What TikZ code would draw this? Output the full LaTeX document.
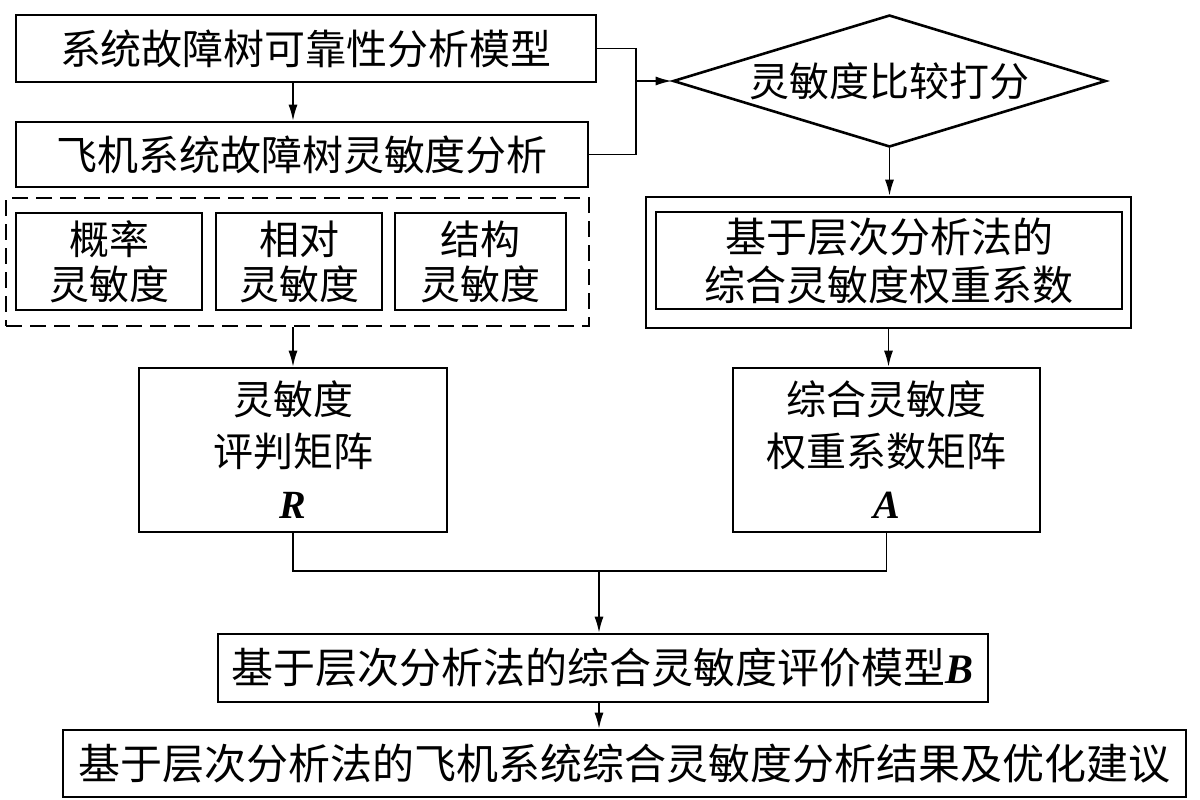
\documentclass[tikz,border=0pt]{standalone}
\usepackage{fontspec}
\setmainfont{Noto Sans CJK SC}
\newfontfamily\tnr{Liberation Serif}
\usetikzlibrary{arrows.meta,shapes.geometric}
\begin{document}
\begin{tikzpicture}[x=0.5pt,y=-0.5pt,
  box/.style={draw,line width=1.3pt,inner sep=0pt,align=center,font=\fontsize{20}{24}\selectfont},
  conn/.style={line width=0.8pt},
  arr/.style={line width=0.8pt,-{Latex[length=8pt,width=4.5pt]}},
  dbox/.style={draw,line width=1.3pt,dash pattern=on 8pt off 4pt,inner sep=0pt}]
\useasboundingbox (0,0) rectangle (1200,799);
\node[box,minimum width=290pt,minimum height=33.5pt,font=\fontsize{20.5}{24}\selectfont] (b1) at (306,48.5) {系统故障树可靠性分析模型};
\node[box,minimum width=286pt,minimum height=32.5pt,font=\fontsize{20.5}{24}\selectfont] (b2) at (302,154.5) {飞机系统故障树灵敏度分析};
\node[dbox,minimum width=291.5pt,minimum height=64pt] (dash) at (297.5,262) {};
\node[box,minimum width=93pt,minimum height=48.5pt,font=\fontsize{20}{22.5}\selectfont] (p1) at (109,261.5) {概率\\灵敏度};
\node[box,minimum width=83pt,minimum height=48.5pt,font=\fontsize{20}{22.5}\selectfont] (p2) at (299,261.5) {相对\\灵敏度};
\node[box,minimum width=85.5pt,minimum height=48.5pt,font=\fontsize{20}{22.5}\selectfont] (p3) at (480.5,261.5) {结构\\灵敏度};
\node[box,minimum width=154pt,minimum height=82pt,font=\fontsize{20}{26}\selectfont] (R) at (293,450) {灵敏度\\评判矩阵\\{\tnr\bfseries\itshape R}};
\node[draw,shape=diamond,line width=1.3pt,inner sep=0pt,aspect=3.28,minimum width=216.5pt,minimum height=66pt,font=\fontsize{20}{24}\selectfont] (dia) at (889.5,81) {灵敏度比较打分};
\node[draw,line width=1.3pt,inner sep=0pt,minimum width=242.5pt,minimum height=65.5pt] (outer) at (888.5,262.5) {};
\node[box,minimum width=233pt,minimum height=48.5pt,font=\fontsize{20.5}{24}\selectfont] (inner) at (889,260.5) {基于层次分析法的\\综合灵敏度权重系数};
\node[box,minimum width=153.5pt,minimum height=82pt,font=\fontsize{20}{26}\selectfont] (A) at (886.5,450) {综合灵敏度\\权重系数矩阵\\{\tnr\bfseries\itshape A}};
\node[box,minimum width=385pt,minimum height=34pt,font=\fontsize{21}{24}\selectfont] (B) at (603,668) {基于层次分析法的综合灵敏度评价模型{\tnr\bfseries\itshape B}};
\node[box,minimum width=561.5pt,minimum height=33.5pt,font=\fontsize{21}{24}\selectfont] (C) at (624.5,763.5) {基于层次分析法的飞机系统综合灵敏度分析结果及优化建议};
\coordinate (k) at (636,81);
\coordinate (j) at (599,571);
\draw[conn] (b1.east) -| (k) |- (b2.east);
\draw[arr] (k) -- (dia.west);
\draw[arr] (b1.south -| R.north) -- (b2.north -| R.north);
\draw[arr] (dash.south -| R.north) -- (R.north);
\draw[arr] (dia.south) -- (outer.north -| dia.south);
\draw[arr] (outer.south) -- (outer.south |- A.north);
\draw[conn] (R.south) |- (j) -| (A.south);
\draw[arr] (j) -- (j |- B.north);
\draw[arr] (j |- B.south) -- (j |- C.north);
\end{tikzpicture}
\end{document}
